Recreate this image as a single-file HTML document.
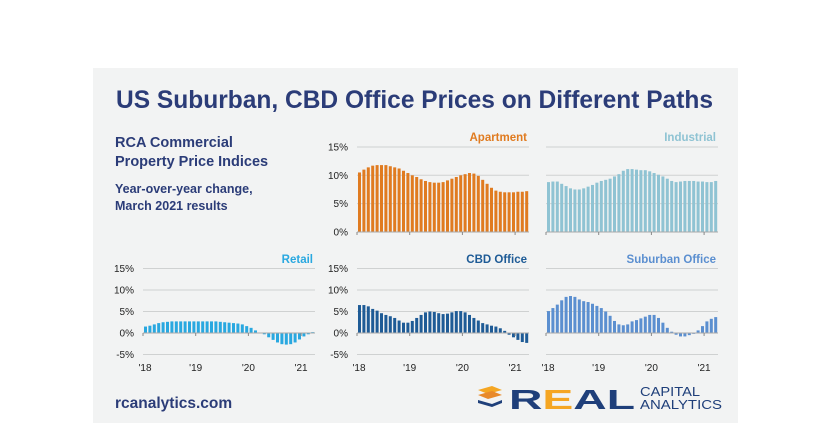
<!DOCTYPE html>
<html><head><meta charset="utf-8"><style>
body{margin:0;background:#fff;width:830px;height:423px;overflow:hidden;font-family:"Liberation Sans",Arial,sans-serif}
</style></head><body>
<svg id="s" width="830" height="423" xmlns="http://www.w3.org/2000/svg" font-family="Liberation Sans, Arial, sans-serif">
<rect x="93" y="68" width="645" height="355" fill="#f2f3f3"/>
<text x="116" y="108" textLength="597" lengthAdjust="spacingAndGlyphs" font-size="25" font-weight="bold" fill="#2b3c78">US Suburban, CBD Office Prices on Different Paths</text>
<text x="115" y="147" font-size="14.5" font-weight="bold" fill="#2b3c78">RCA Commercial</text>
<text x="115" y="166" font-size="14.5" font-weight="bold" fill="#2b3c78">Property Price Indices</text>
<text x="115" y="193" font-size="12.5" font-weight="bold" fill="#2b3c78">Year-over-year change,</text>
<text x="115" y="210" font-size="12.5" font-weight="bold" fill="#2b3c78">March 2021 results</text>
<text x="115" y="408" font-size="15.5" font-weight="bold" fill="#2b3c78">rcanalytics.com</text>
<g>
<path d="M478 390 L492 386 L502 390 L488 394Z" fill="#f5a623"/>
<path d="M478 395 L492 391 L502 395 L488 399Z" fill="#e8892a"/>
<path d="M478 400 L492 404 L502 400 L502 403 L492 407 L478 403Z" fill="#1f3f7a"/>
</g>
<text x="509" y="409" textLength="126" lengthAdjust="spacingAndGlyphs" font-size="28" font-weight="bold" fill="#1f3f7a">R<tspan fill="#f5a623">E</tspan>AL</text>
<text x="640" y="396" textLength="60" lengthAdjust="spacingAndGlyphs" font-size="13" fill="#1f3f7a">CAPITAL</text>
<text x="640" y="409" textLength="82" lengthAdjust="spacingAndGlyphs" font-size="13" fill="#1f3f7a">ANALYTICS</text>
<g id="c"></g>
</svg>
<script>
const D={
apt:[10.5,11,11.4,11.7,11.8,11.8,11.8,11.6,11.4,11.2,10.8,10.4,10,9.7,9.3,9,8.8,8.7,8.7,8.8,9.1,9.4,9.7,10,10.2,10.4,10.3,9.9,9.2,8.5,7.8,7.3,7.1,7,7,7,7.1,7.1,7.2],
ind:[8.8,8.9,8.9,8.5,8.1,7.7,7.5,7.5,7.7,8,8.3,8.7,9,9.2,9.4,9.8,10.2,10.8,11.1,11.1,11,10.9,10.9,10.7,10.4,10.1,9.8,9.4,9,8.8,8.9,9,9,9,8.9,8.9,8.8,8.8,9.0],
ret:[1.5,1.7,2,2.3,2.5,2.6,2.7,2.7,2.7,2.7,2.7,2.7,2.7,2.7,2.7,2.7,2.7,2.6,2.5,2.4,2.3,2.2,2.0,1.6,1.2,0.6,0.1,-0.3,-1,-1.6,-2.2,-2.6,-2.7,-2.6,-2.2,-1.5,-0.8,-0.3,0.2],
cbd:[6.5,6.5,6.2,5.6,5.2,4.6,4.2,3.9,3.5,2.9,2.4,2.4,2.8,3.5,4.2,4.8,5,4.9,4.6,4.4,4.5,4.8,5.1,5.1,4.8,4.2,3.5,2.9,2.3,2,1.7,1.5,1.1,0.5,-0.4,-1,-1.6,-2.1,-2.3],
sub:[5.1,5.8,6.6,7.6,8.4,8.6,8.4,7.8,7.4,7.2,6.8,6.3,5.8,5,4,2.8,2,1.8,2,2.7,3,3.4,3.8,4.2,4.2,3.5,2.4,1.2,0.3,-0.4,-0.8,-0.8,-0.5,-0.2,0.6,1.6,2.7,3.3,3.7]};
const C=[
{d:'apt',x:357,z:232,u:5.67,col:'#e07b20',t:'Apartment',ty:141,lab:true,neg:false,xl:false},
{d:'ind',x:546,z:232,u:5.67,col:'#8fc3d3',t:'Industrial',ty:141,lab:false,neg:false,xl:false},
{d:'ret',x:143,z:333,u:4.3,col:'#29a8e0',t:'Retail',ty:263,lab:true,neg:true,xl:true},
{d:'cbd',x:357,z:333,u:4.3,col:'#1e5b96',t:'CBD Office',ty:263,lab:true,neg:true,xl:true},
{d:'sub',x:546,z:333,u:4.3,col:'#5b8fd0',t:'Suburban Office',ty:263,lab:false,neg:true,xl:true}];
let h='';const W=172,st=4.4;
for(const c of C){
 const lv=c.neg?[15,10,5,-5]:[15,10,5];
 for(const v of lv){const y=c.z-v*c.u;h+=`<line x1="${c.x}" x2="${c.x+W}" y1="${y}" y2="${y}" stroke="#cfd1d1" stroke-width="1"/>`;}
 if(c.lab)for(const v of lv.concat([0])){const y=c.z-v*c.u;h+=`<text x="${c.x-9}" y="${y+3.5}" font-size="10" text-anchor="end" fill="#222">${v}%</text>`;}
 D[c.d].forEach((v,i)=>{const x=c.x+1+i*st;const y=v>=0?c.z-v*c.u:c.z;h+=`<rect x="${x}" y="${y}" width="3" height="${Math.abs(v)*c.u}" fill="${c.col}"/>`;});
 h+=`<line x1="${c.x}" x2="${c.x+W}" y1="${c.z}" y2="${c.z}" stroke="#aaa" stroke-width="1"/>`;
 for(let k=0;k<4;k++){const x=c.x+k*52.7;h+=`<line x1="${x}" x2="${x}" y1="${c.z}" y2="${c.z+3}" stroke="#888"/>`;
  if(c.xl)h+=`<text x="${x+(k==0?2:0)}" y="371" font-size="10" text-anchor="middle" fill="#222">'${18+k}</text>`;}
 h+=`<text x="${c.x+W-2}" y="${c.ty}" font-size="11.5" font-weight="bold" text-anchor="end" fill="${c.col}">${c.t}</text>`;
}
document.getElementById('c').innerHTML=h;
</script>
</body></html>
